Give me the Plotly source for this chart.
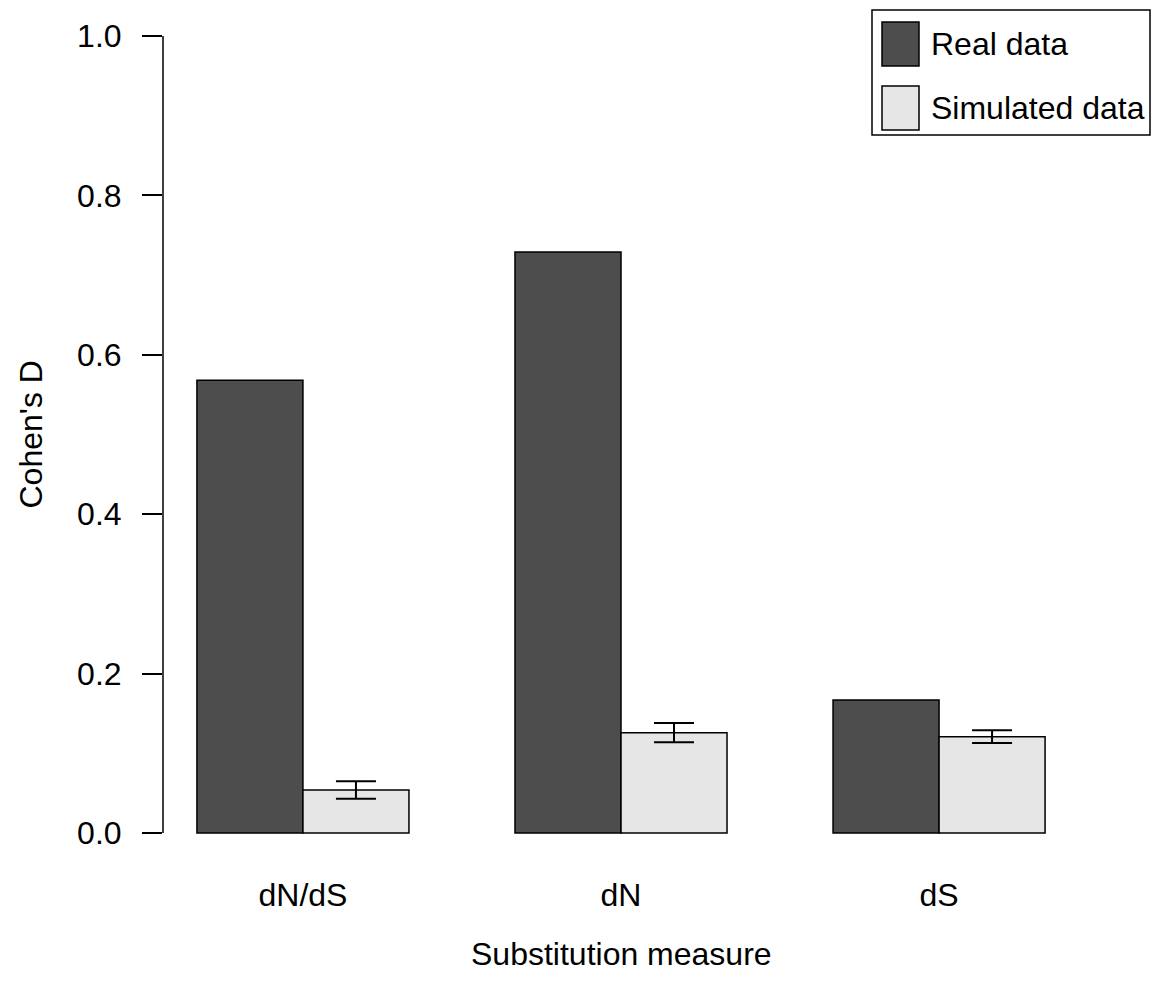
import plotly.graph_objects as go

# Effect sizes (Cohen's D) per substitution measure
categories = ["dN/dS", "dN", "dS"]
real_values = [0.568, 0.729, 0.167]
sim_values = [0.054, 0.126, 0.121]
sim_errors = [0.011, 0.012, 0.008]
series_names = ["Real data", "Simulated data"]
y_ticks = [0.0, 0.2, 0.4, 0.6, 0.8, 1.0]

DARK = "#4D4D4D"
LIGHT = "#E6E6E6"
FONT = "Liberation Sans, Arial, sans-serif"
FS = 32

W, H = 1153, 987
ML, MR, MT, MB = 163, 74, 4, 122
PW, PH = W - ML - MR, H - MT - MB


def px_x(x):
    return (x - ML) / PW


def px_y(y):
    return (H - MB - y) / PH


fig = go.Figure()
fig.add_trace(go.Bar(
    x=categories, y=real_values, name=series_names[0],
    marker=dict(color=DARK, line=dict(color="black", width=1.5)),
    showlegend=False,
))
fig.add_trace(go.Bar(
    x=categories, y=sim_values, name=series_names[1],
    marker=dict(color=LIGHT, line=dict(color="black", width=1.5)),
    error_y=dict(type="data", array=sim_errors, visible=True,
                 color="black", thickness=2, width=20),
    showlegend=False,
))

shapes = [
    # y axis line spanning only the tick range
    dict(type="line", xref="paper", yref="y", x0=0, x1=0,
         y0=y_ticks[0], y1=y_ticks[-1], line=dict(color="black", width=1.5)),
    # legend frame
    dict(type="rect", xref="paper", yref="paper",
         x0=px_x(872), x1=px_x(1150), y0=px_y(135), y1=px_y(10),
         line=dict(color="black", width=1.5), fillcolor="white"),
]
annotations = []
legend_rows = [(series_names[0], DARK, 44), (series_names[1], LIGHT, 108)]
for name, color, cy in legend_rows:
    shapes.append(dict(type="rect", xref="paper", yref="paper",
                       x0=px_x(882), x1=px_x(919),
                       y0=px_y(cy + 22), y1=px_y(cy - 22),
                       line=dict(color="black", width=1.5), fillcolor=color))
    annotations.append(dict(text=name, xref="paper", yref="paper",
                            x=px_x(929), y=px_y(cy), xanchor="left",
                            yanchor="middle", showarrow=False,
                            font=dict(family=FONT, size=FS, color="black")))

annotations.append(dict(text="Substitution measure", xref="paper", yref="paper",
                        x=0.5, y=px_y(954), xanchor="center", yanchor="middle",
                        showarrow=False,
                        font=dict(family=FONT, size=FS, color="black")))
annotations.append(dict(text="Cohen's D", xref="paper", yref="paper",
                        x=px_x(30), y=0.5 * (px_y(36) + px_y(833)),
                        xanchor="center", yanchor="middle", textangle=-90,
                        showarrow=False,
                        font=dict(family=FONT, size=FS, color="black")))

fig.update_layout(
    width=W, height=H,
    margin=dict(l=ML, r=MR, t=MT, b=MB, pad=0),
    paper_bgcolor="white", plot_bgcolor="white",
    barmode="group", bargap=1 / 3, bargroupgap=0,
    font=dict(family=FONT, size=FS, color="black"),
    xaxis=dict(range=[-0.44, 2.44], showline=False, showgrid=False,
               zeroline=False, ticks="", tickfont=dict(size=FS),
               ticklabelstandoff=8),
    yaxis=dict(range=[-0.04, 1.04], tickvals=y_ticks,
               ticktext=[f"{v:.1f}" for v in y_ticks],
               showline=False, showgrid=False, zeroline=False,
               ticks="outside", ticklen=20, tickwidth=1.5, tickcolor="black",
               tickfont=dict(size=FS), ticklabelstandoff=14),
    shapes=shapes,
    annotations=annotations,
)

fig.write_html("out.html")
